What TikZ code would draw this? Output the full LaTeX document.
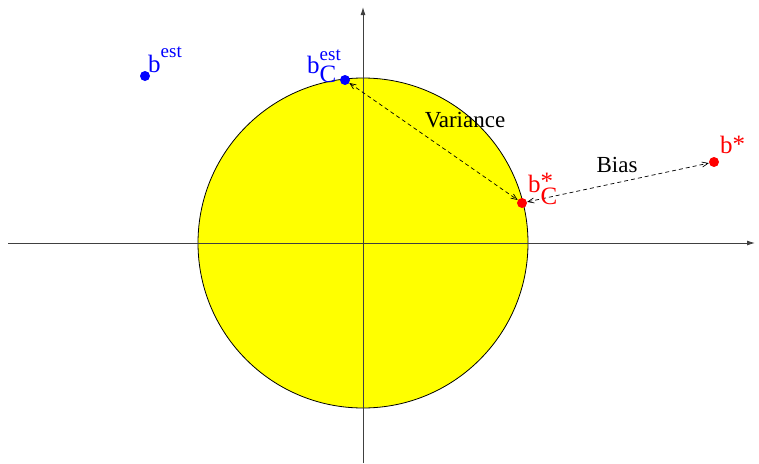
\documentclass[tikz,border=0pt]{standalone}
\usepackage{fontspec}
\setmainfont{Liberation Serif}
\usetikzlibrary{arrows.meta}
\definecolor{ptBlue}{RGB}{0,0,255}
\definecolor{ptRed}{RGB}{255,0,0}
\definecolor{ptYellow}{RGB}{255,255,0}
\tikzset{
  axis/.style   ={-{Latex[length=8pt,width=5pt]},line width=0.9pt,black!75},
  ball/.style   ={fill=ptYellow,draw=black,line width=0.8pt},
  dot/.style    ={circle,inner sep=0pt,minimum size=10pt},
  estdot/.style ={dot,fill=ptBlue},
  stardot/.style={dot,fill=ptRed},
  gap/.style    ={{Straight Barb[length=6pt,width=5pt]}-{Straight Barb[length=6pt,width=5pt]},
                  dash pattern=on 4pt off 3pt,line width=0.7pt},
  lbl/.style    ={font=\fontsize{23}{23}\selectfont,inner sep=0pt,anchor=base},
  blbl/.style   ={font=\fontsize{25}{25}\selectfont,inner sep=0pt,anchor=base west},
}
\newcommand{\supest}[1]{\raisebox{#1}{\fontsize{19}{19}\selectfont est}}
\newcommand{\substar}[1]{\raisebox{#1}{*}}

\begin{document}
\begin{tikzpicture}[x=1pt,y=-1pt]
\useasboundingbox (0,0) rectangle (759,463);
% axes and the constraint ball
\coordinate (o) at (363,243);
\coordinate (xl) at (8,243);
\coordinate (xr) at (755,243);
\coordinate (yb) at (363,463);
\coordinate (yt) at (363,7);
\draw[ball] (o) circle[radius=165pt];
\draw[axis] (xl) -- (xr);
\draw[axis] (yb) -- (yt);

% estimates
\node[estdot]  (best)   at (145,76)  {};
\node[estdot]  (bcest)  at (345,80)  {};
\node[stardot] (bcstar) at (522,203) {};
\node[stardot] (bstar)  at (714,162) {};

\draw[gap] (bcest) -- (bcstar);
\draw[gap] (bcstar) -- (bstar);

% labels
\node[blbl,text=ptBlue] (lbest)   at (148,72)  {b\supest{15pt}};
\node[blbl,text=ptBlue] (lbcest)  at (307,73)  {b\rlap{\supest{13pt}}\raisebox{-9pt}{C}};
\node[blbl,text=ptRed]  (lbcstar) at (528,192) {b\rlap{\substar{3pt}}\raisebox{-12pt}{C}};
\node[blbl,text=ptRed]  (lbstar)  at (720,153) {b\substar{1pt}};
\node[lbl] (var)  at (465,127) {Variance};
\node[lbl] (bias) at (617,172) {Bias};
\end{tikzpicture}
\end{document}
